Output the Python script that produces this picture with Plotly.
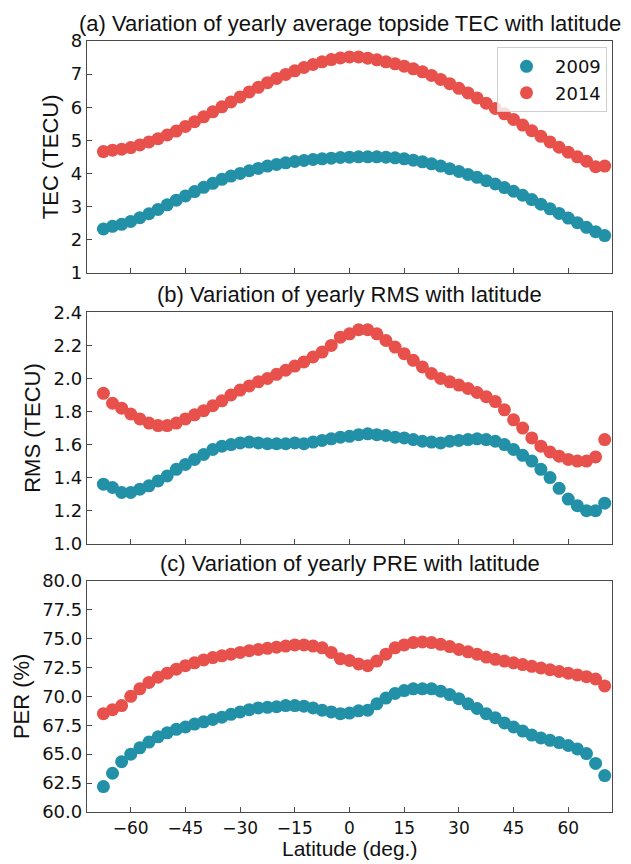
import plotly.graph_objects as go

# Latitude bins (deg.)
lat = [-67.5, -65.0, -62.5, -60.0, -57.5, -55.0, -52.5, -50.0, -47.5, -45.0,
       -42.5, -40.0, -37.5, -35.0, -32.5, -30.0, -27.5, -25.0, -22.5, -20.0,
       -17.5, -15.0, -12.5, -10.0, -7.5, -5.0, -2.5, 0.0, 2.5, 5.0,
       7.5, 10.0, 12.5, 15.0, 17.5, 20.0, 22.5, 25.0, 27.5, 30.0,
       32.5, 35.0, 37.5, 40.0, 42.5, 45.0, 47.5, 50.0, 52.5, 55.0,
       57.5, 60.0, 62.5, 65.0, 67.5, 70.0]

# (a) yearly average topside TEC (TECU)
tec_2009 = [2.32, 2.40, 2.46, 2.55, 2.66, 2.78, 2.91, 3.05, 3.19, 3.32,
            3.45, 3.58, 3.70, 3.82, 3.92, 4.00, 4.08, 4.15, 4.22, 4.27,
            4.32, 4.36, 4.39, 4.42, 4.44, 4.46, 4.48, 4.49, 4.50, 4.50,
            4.50, 4.49, 4.47, 4.44, 4.40, 4.35, 4.29, 4.22, 4.14, 4.06,
            3.97, 3.88, 3.78, 3.68, 3.57, 3.46, 3.34, 3.21, 3.07, 2.93,
            2.79, 2.65, 2.51, 2.37, 2.24, 2.12]
tec_2014 = [4.66, 4.70, 4.73, 4.78, 4.86, 4.95, 5.05, 5.16, 5.28, 5.42,
            5.56, 5.71, 5.86, 6.01, 6.16, 6.31, 6.46, 6.60, 6.74, 6.87,
            6.99, 7.10, 7.20, 7.29, 7.37, 7.44, 7.49, 7.52, 7.52, 7.48,
            7.43, 7.37, 7.31, 7.24, 7.16, 7.07, 6.96, 6.84, 6.71, 6.57,
            6.43, 6.28, 6.12, 5.96, 5.80, 5.63, 5.46, 5.29, 5.12, 4.95,
            4.79, 4.64, 4.50, 4.37, 4.20, 4.22]

# (b) yearly RMS (TECU)
rms_2009 = [1.36, 1.34, 1.31, 1.31, 1.33, 1.35, 1.38, 1.41, 1.45, 1.48,
            1.51, 1.54, 1.57, 1.59, 1.60, 1.61, 1.615, 1.61, 1.605, 1.605,
            1.605, 1.61, 1.605, 1.615, 1.625, 1.635, 1.645, 1.65, 1.66, 1.665,
            1.66, 1.655, 1.645, 1.64, 1.63, 1.62, 1.615, 1.61, 1.62, 1.625,
            1.63, 1.635, 1.63, 1.62, 1.60, 1.57, 1.535, 1.50, 1.45, 1.40,
            1.335, 1.27, 1.23, 1.20, 1.20, 1.245]
rms_2014 = [1.91, 1.85, 1.82, 1.785, 1.755, 1.73, 1.715, 1.715, 1.73, 1.755,
            1.78, 1.805, 1.835, 1.865, 1.90, 1.93, 1.955, 1.98, 2.00, 2.025,
            2.05, 2.075, 2.10, 2.13, 2.16, 2.20, 2.25, 2.27, 2.295, 2.295,
            2.27, 2.23, 2.19, 2.15, 2.11, 2.07, 2.03, 2.00, 1.98, 1.96,
            1.94, 1.915, 1.89, 1.86, 1.81, 1.75, 1.70, 1.64, 1.59, 1.555,
            1.53, 1.51, 1.50, 1.50, 1.525, 1.63]

# (c) yearly PRE (%)
per_2009 = [62.2, 63.35, 64.35, 65.0, 65.55, 66.05, 66.5, 66.85, 67.15, 67.35,
            67.6, 67.8, 68.0, 68.2, 68.45, 68.65, 68.85, 69.0, 69.05, 69.1,
            69.2, 69.2, 69.15, 69.0, 68.8, 68.65, 68.5, 68.55, 68.75, 68.8,
            69.35, 69.85, 70.25, 70.5, 70.65, 70.65, 70.65, 70.45, 70.15, 69.8,
            69.35, 68.95, 68.5, 68.15, 67.7, 67.35, 67.0, 66.65, 66.4, 66.2,
            66.0, 65.75, 65.45, 65.05, 64.2, 63.15]
per_2014 = [68.5, 68.85, 69.2, 70.0, 70.65, 71.2, 71.65, 72.0, 72.35, 72.65,
            72.9, 73.15, 73.35, 73.5, 73.65, 73.8, 73.95, 74.05, 74.15, 74.25,
            74.35, 74.45, 74.45, 74.35, 74.2, 73.8, 73.25, 73.1, 72.8, 72.65,
            73.05, 73.65, 74.2, 74.45, 74.65, 74.7, 74.65, 74.5, 74.3, 74.05,
            73.85, 73.65, 73.4, 73.2, 73.05, 72.9, 72.75, 72.6, 72.45, 72.3,
            72.15, 72.0, 71.85, 71.7, 71.5, 70.9]

years = ["2009", "2014"]
lat_ticks = [-60, -45, -30, -15, 0, 15, 30, 45, 60]

BLUE = "#2291a8"
RED = "#e8514b"
AXIS = "#4a4a4a"
TITLE_FONT = dict(family="Liberation Sans, Arial, sans-serif", size=22, color="#111")
TICK_FONT = dict(family="DejaVu Sans, sans-serif", size=18, color="#111")

panels = [
    # (x axis, y axis, series, y title, range, dtick, tick format, domain, panel title)
    ("x", "y", (tec_2009, tec_2014), "TEC (TECU)", [1, 8], 1, "d", [0.6995, 1.0],
     "(a) Variation of yearly average topside TEC with latitude"),
    ("x2", "y2", (rms_2009, rms_2014), "RMS (TECU)", [1.0, 2.4], 0.2, ".1f", [0.348, 0.648],
     "(b) Variation of yearly RMS with latitude"),
    ("x3", "y3", (per_2009, per_2014), "PER (%)", [60, 80], 2.5, ".1f", [0.0, 0.3],
     "(c) Variation of yearly PRE with latitude"),
]

fig = go.Figure()
for k, (xa, ya, series, _, _, _, _, _, _) in enumerate(panels):
    for year, vals, col in zip(years, series, (BLUE, RED)):
        fig.add_trace(go.Scatter(
            x=lat, y=vals, mode="markers", name=year,
            marker=dict(color=col, size=13, line=dict(width=0)),
            xaxis=xa, yaxis=ya, showlegend=(k == 0),
        ))

layout = dict(
    width=631, height=864,
    margin=dict(l=87, r=19, t=41, b=52),
    paper_bgcolor="white", plot_bgcolor="white",
    showlegend=True,
    legend=dict(
        x=0.9905, xanchor="right", y=0.992, yanchor="top",
        bgcolor="rgba(255,255,255,0.8)", bordercolor="#cfcfcf", borderwidth=1,
        font=dict(family="DejaVu Sans, sans-serif", size=18, color="#111"),
        itemwidth=47, tracegroupgap=0,
    ),
    annotations=[],
)

for k, (xa, ya, _, ytitle, yr, dt, fmt, dom, ptitle) in enumerate(panels):
    xkey = "xaxis" if xa == "x" else "xaxis" + xa[1:]
    ykey = "yaxis" if ya == "y" else "yaxis" + ya[1:]
    bottom = (k == len(panels) - 1)
    layout[xkey] = dict(
        domain=[0, 1], anchor=ya, range=[-72, 72], automargin=False,
        tickvals=lat_ticks, showticklabels=bottom,
        ticks="inside", ticklen=5, tickwidth=1, tickcolor=AXIS,
        showline=True, linecolor=AXIS, linewidth=1.3, mirror=True,
        showgrid=False, zeroline=False,
        tickfont=dict(TICK_FONT, size=17),
    )
    if xa != "x3":
        layout[xkey]["matches"] = "x3"
    layout[ykey] = dict(
        domain=dom, anchor=xa, range=yr, dtick=dt, tick0=yr[0], tickformat=fmt,
        automargin=False,
        ticks="inside", ticklen=5, tickwidth=1, tickcolor=AXIS,
        showline=True, linecolor=AXIS, linewidth=1.3, mirror=True,
        showgrid=False, zeroline=False, tickfont=TICK_FONT,
        title=dict(text=ytitle, font=TITLE_FONT, standoff=6),
    )
    layout["annotations"].append(dict(
        text=ptitle, xref="paper", yref="paper", x=0.5, y=dom[1],
        xanchor="center", yanchor="bottom", yshift=3, showarrow=False,
        font=TITLE_FONT,
    ))

# Shared latitude label below the bottom panel
layout["annotations"].append(dict(
    text="Latitude (deg.)", xref="paper", yref="paper", x=0.5, y=0,
    xanchor="center", yanchor="top", yshift=-24, showarrow=False,
    font=dict(TITLE_FONT, size=21), borderpad=0,
))

fig.update_layout(**layout)
fig.write_html("out.html")
